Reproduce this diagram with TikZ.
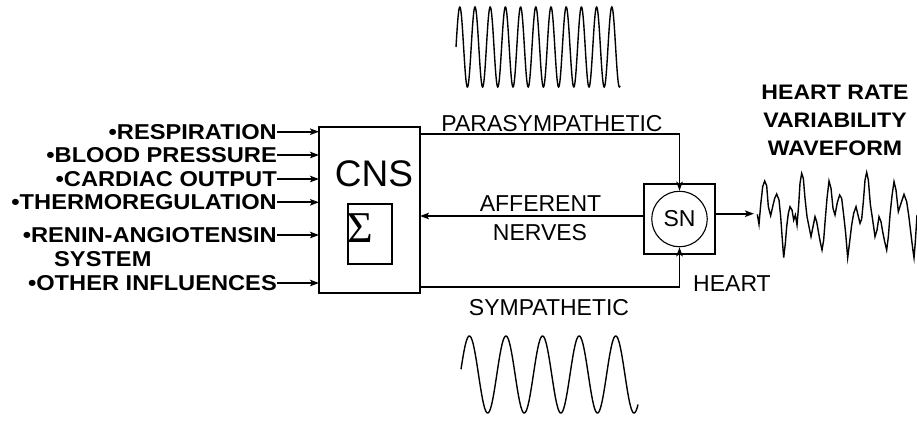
\documentclass[tikz,border=0pt]{standalone}
\usepackage{fontspec}
\setmainfont{Liberation Sans}
\newfontfamily\bst{Liberation Sans}[FakeStretch=1.1]
\newfontfamily\serifsig{Liberation Serif}
\usetikzlibrary{arrows.meta}
\begin{document}
\begin{tikzpicture}[x=1pt,y=-1pt,
  box/.style={draw, line width=1.2pt, inner sep=0pt, outer sep=0pt},
  conn/.style={line width=1.7pt, -{Stealth[length=9pt,width=6.5pt,inset=2pt]}},
  reg/.style={inner sep=0pt, font=\fontsize{23}{27}\selectfont},
  inp/.style={inner sep=0pt, anchor=east, font=\bst\bfseries\fontsize{21.5}{26}\selectfont},
  ttl/.style={inner sep=0pt, anchor=base, font=\bst\bfseries\fontsize{21}{26}\selectfont},
  wave/.style={line width=1.4pt, line join=miter}]
\useasboundingbox (0,0) rectangle (917,421);

% CNS block
\node[box, minimum width=101pt, minimum height=166pt] (cns) at (369.5,210) {};
\node[reg, anchor=base, font=\fontsize{37}{40}\selectfont] (cnsl) at (374,186.7) {CNS};
\node[box, minimum width=44pt, minimum height=60pt] (sig) at (370,234) {};
\node[inner sep=0pt, anchor=base west, font=\serifsig\fontsize{44}{48}\selectfont] (sigl) at (347.5,242) {Σ};

% SN block
\node[box, minimum width=71pt, minimum height=70pt] (snbox) at (679.5,219) {};
\node[draw, circle, line width=1.1pt, minimum size=55.5pt, inner sep=0pt, font=\fontsize{23}{27}\selectfont] (sn) at (679.5,219) {SN};

% helper coordinates
\coordinate (ptop) at (0,134);
\coordinate (pbot) at (0,286.7);
\coordinate (aff) at (0,216);
\coordinate (hrvin) at (754,213.7);

\draw[conn] (cns.east |- ptop) -| (sn.north);
\draw[conn] (cns.east |- pbot) -| (sn.south);
\draw[conn] (snbox.west |- aff) -- (cns.east |- aff);
\draw[conn] (snbox.east |- hrvin) -- (hrvin);

% inputs
\node[inp] (i1) at (277,131.7) {•RESPIRATION};
\node[inp] (i2) at (277,155) {•BLOOD PRESSURE};
\node[inp] (i3) at (277,179) {•CARDIAC OUTPUT};
\node[inp] (i4) at (277,202.3) {•THERMOREGULATION};
\node[inp] (i5) at (277,235) {•RENIN-ANGIOTENSIN};
\node[inp, anchor=base west] (i5b) at (54,266.7) {SYSTEM};
\node[inp] (i6) at (277,283) {•OTHER INFLUENCES};
\foreach \n in {i1,i2,i3,i4,i5,i6}
  \draw[conn] (\n.east) -- (cns.west |- \n.east);

% labels
\node[reg, anchor=base] (para) at (552,131.7) {PARASYMPATHETIC};
\node[reg, anchor=base] (aff1) at (540.5,211) {AFFERENT};
\node[reg, anchor=base] (aff2) at (540,240) {NERVES};
\node[reg, anchor=base] (symp) at (549,315) {SYMPATHETIC};
\node[reg, anchor=base west] (heart) at (693,291.7) {HEART};
\node[ttl] (t1) at (835,99) {HEART RATE};
\node[ttl] (t2) at (835,127) {VARIABILITY};
\node[ttl] (t3) at (835,155) {WAVEFORM};

% waves
\draw[wave] plot[domain=456:620, samples=500] (\x,{47-40*sin(23.6842*(\x-456))});
\draw[wave] plot[domain=461:638, samples=300] (\x,{374.5-38.5*sin(9.8361*(\x-460.2))});
\begin{scope}[shift={(750pt,-165pt)}, x=0.33333pt, y=-0.33333pt]
\draw[wave] (22,148) -- (27,178) -- (32,120) -- (38,65) -- (44,48) -- (50,62) -- (55,125) -- (62,152) -- (68,125) -- (74,100) -- (80,87) -- (87,105) -- (92,155) -- (97,225) -- (101,278) -- (106,235) -- (110,185) -- (115,145) -- (120,125) -- (126,135) -- (131,165) -- (136,150) -- (141,180) -- (146,120) -- (150,55) -- (155,25) -- (160,40) -- (165,100) -- (171,155) -- (178,190) -- (183,215) -- (189,185) -- (195,155) -- (200,170) -- (206,205) -- (211,232) -- (216,255) -- (221,225) -- (226,160) -- (231,100) -- (237,48) -- (243,70) -- (249,130) -- (255,150) -- (262,112) -- (269,90) -- (275,100) -- (281,150) -- (287,205) -- (293,278) -- (299,230) -- (305,180) -- (311,145) -- (318,125) -- (324,150) -- (330,175) -- (335,162) -- (340,110) -- (345,45) -- (350,22) -- (355,45) -- (361,118) -- (368,165) -- (375,215) -- (381,195) -- (387,155) -- (393,170) -- (398,200) -- (404,230) -- (410,255) -- (415,215) -- (420,150) -- (426,92) -- (432,50) -- (438,75) -- (445,140) -- (452,118) -- (462,88) -- (470,110) -- (476,150) -- (482,200) -- (488,250) -- (492,278) -- (496,230) -- (501,150);
\end{scope}
\end{tikzpicture}
\end{document}
